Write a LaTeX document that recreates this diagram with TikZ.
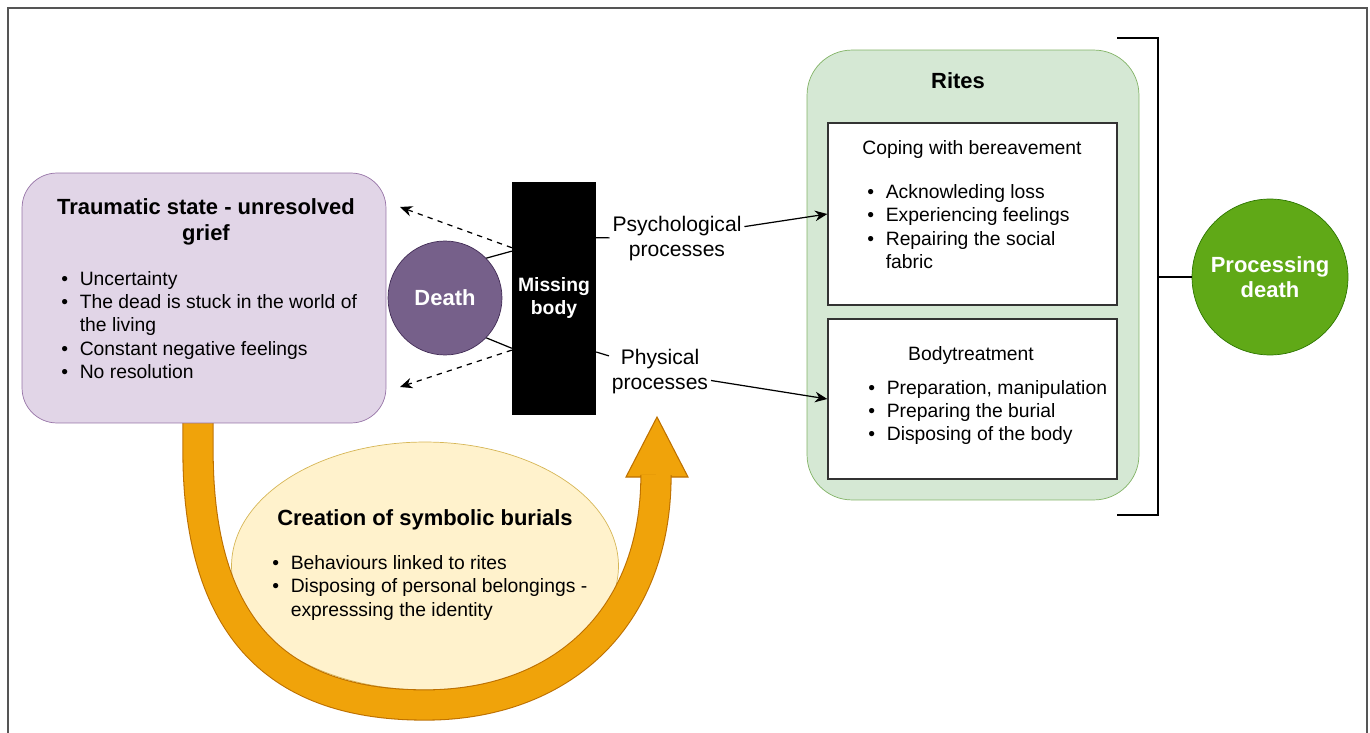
\documentclass[tikz,border=0pt]{standalone}
\usepackage{fontspec}
\setmainfont{Liberation Sans}
\usetikzlibrary{arrows.meta,shapes.geometric}

\definecolor{griefFill}{HTML}{E1D5E7}
\definecolor{griefLine}{HTML}{9673A6}
\definecolor{deathFill}{HTML}{76608A}
\definecolor{deathLine}{HTML}{432D57}
\definecolor{burialFill}{HTML}{FFF2CC}
\definecolor{burialLine}{HTML}{D6B656}
\definecolor{loopFill}{HTML}{F0A30A}
\definecolor{loopLine}{HTML}{BD7000}
\definecolor{ritesFill}{HTML}{D5E8D4}
\definecolor{ritesLine}{HTML}{82B366}
\definecolor{procFill}{HTML}{60A917}
\definecolor{procLine}{HTML}{2D7600}
\definecolor{frameGray}{HTML}{555555}

\newcommand{\bul}{\makebox[10.5pt][l]{\textbullet}}
\newcommand{\ind}{\hspace*{10.5pt}}

\begin{document}
\begin{tikzpicture}[x=0.02cm,y=-0.02cm]
	% Set styles
	\tikzset{
		title text/.style={font=\fontsize{12.5pt}{14.8pt}\selectfont\bfseries, inner sep=0pt, align=center},
		body text/.style={font=\fontsize{11pt}{13.2pt}\selectfont, inner sep=0pt, align=left},
		edge text/.style={font=\fontsize{12pt}{14.2pt}\selectfont, inner sep=1.5pt, align=center},
		white text/.style={text=white, font=\fontsize{12.5pt}{14.2pt}\selectfont\bfseries, align=center},
		sub box/.style={draw=black!80, line width=0.8pt, fill=white, minimum width=5.78cm},
		link/.style={line width=0.7pt},
		tip/.style={-{Stealth[length=7pt,width=6pt]}}
	}
	\useasboundingbox (0,0) rectangle (1370,733);

	% Outer frame
	\draw[frameGray, line width=1.2pt] (8,733) -- (8,8) -- (1367,8) -- (1367,733);

	% Symbolic burials and the loop around them
	\node[ellipse, draw=burialLine, fill=burialFill, minimum width=7.74cm, minimum height=4.96cm] (burial) at (425,566) {};
	\filldraw[fill=loopFill, draw=loopLine, line width=0.6pt] (626,477) -- (657,417) -- (688,477) -- cycle;
	\draw[draw=loopLine, line width=0.6pt, double=loopFill, double distance=16.6pt]
		(198,423) -- (198,450) .. controls (198,620) and (270,705) .. (425,705)
		.. controls (560,705) and (656,620) .. (656,475);
	\node[title text] (burialTitle) at (425,520) {Creation of symbolic burials};
	\node[body text, anchor=west] (burialList) at (272,588) {\bul Behaviours linked to rites\\ \bul Disposing of personal belongings -\\ \ind expresssing the identity};

	% Traumatic state
	\node[draw=griefLine, fill=griefFill, rounded corners=0.7cm, minimum width=7.28cm, minimum height=5cm] (grief) at (204,298) {};
	\node[title text] (griefTitle) at (206,222) {Traumatic state - unresolved\\grief};
	\node[body text, anchor=west] (griefList) at (61,325) {\bul Uncertainty\\ \bul The dead is stuck in the world of\\ \ind the living\\ \bul Constant negative feelings\\ \bul No resolution};

	% Death and the missing body
	\node[circle, draw=deathLine, fill=deathFill, minimum size=2.28cm, white text] (death) at (445,298) {Death};
	\node[draw=black, fill=black, minimum width=1.6cm, minimum height=4.64cm, white text, font=\fontsize{11pt}{13pt}\selectfont\bfseries] (body) at (554,298) {Missing\\body};
	\draw[link] (death.44) -- (body.132);
	\draw[link] (death.-44) -- (body.230);
	\coordinate (backUp) at (400,207);
	\coordinate (backDown) at (400,387);
	\draw[link, dashed, tip] (body.130) -- (backUp);
	\draw[link, dashed, tip] (body.231) -- (backDown);

	% Rites
	\node[draw=ritesLine, fill=ritesFill, rounded corners=0.9cm, minimum width=6.64cm, minimum height=9cm] (rites) at (973,275) {};
	\node[title text] (ritesTitle) at (958,81) {Rites};
	\node[sub box, minimum height=3.64cm] (coping) at (972.5,214) {};
	\node[body text] (copingTitle) at (972,150) {Coping with bereavement};
	\node[body text, anchor=west] (copingList) at (867,226.5) {\bul Acknowleding loss\\ \bul Experiencing feelings\\ \bul Repairing the social\\ \ind fabric};
	\node[sub box, minimum height=3.2cm] (treat) at (972.5,399) {};
	\node[body text] (treatTitle) at (971,356) {Bodytreatment};
	\node[body text, anchor=west] (treatList) at (868,412.5) {\bul Preparation, manipulation\\ \bul Preparing the burial\\ \bul Disposing of the body};

	% Processes
	\node[edge text] (psych) at (677,238.5) {Psychological\\processes};
	\node[edge text] (phys) at (660,371.5) {Physical\\processes};
	\draw[link] (body.55) -- (psych);
	\draw[link, tip] (psych.10) -- (coping.west);
	\draw[link] (body.-52) -- (phys);
	\draw[link, tip] (phys.-10) -- (treat.west);

	% Bracket and result
	\draw[line width=1.3pt] (1117,38) -- (1158,38) -- (1158,515) -- (1117,515);
	\coordinate (brace) at (1158,277);
	\node[circle, draw=procLine, fill=procFill, minimum size=3.12cm, white text] (proc) at (1270,277) {Processing\\death};
	\draw[line width=1.3pt] (brace) -- (proc);
\end{tikzpicture}
\end{document}
